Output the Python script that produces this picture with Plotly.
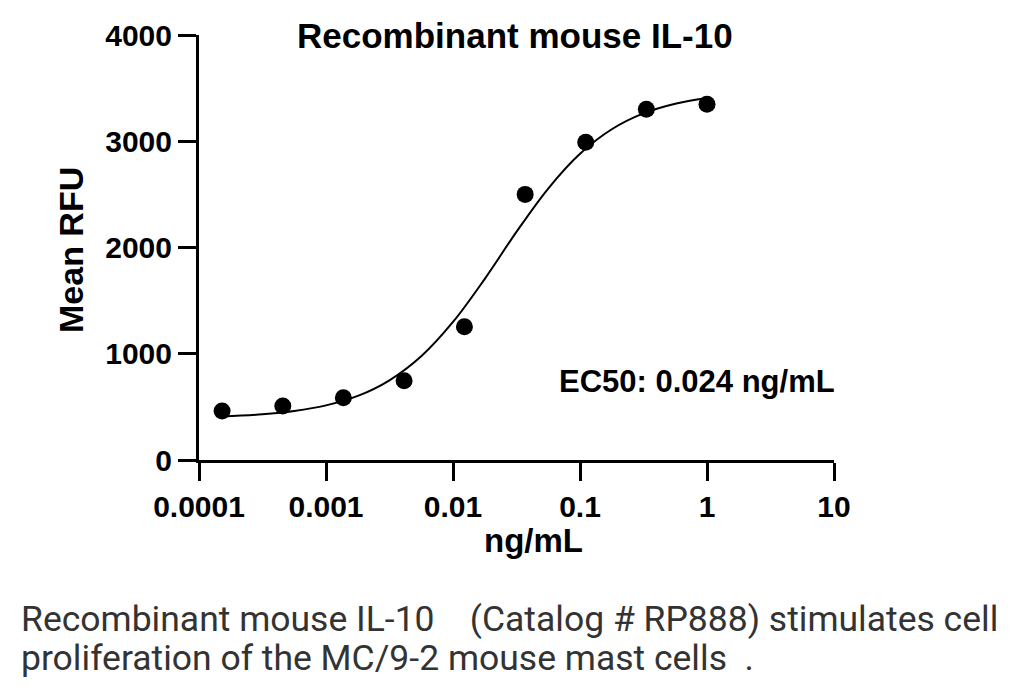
import plotly.graph_objects as go

# Measured points (ng/mL, Mean RFU)
conc = [0.000152, 0.000457, 0.00137, 0.00412, 0.0123, 0.037, 0.111, 0.333, 1.0]
rfu = [462, 509, 585, 745, 1255, 2500, 2991, 3302, 3349]

# Fitted curve
curve_x = [0.000151, 0.000316, 0.000562, 0.001, 0.00178, 0.00316, 0.00562, 0.01,
           0.0178, 0.0316, 0.0562, 0.1, 0.178, 0.316, 0.562, 1.0]
curve_y = [409, 430, 461, 514, 603, 750, 976, 1299,
           1705, 2147, 2555, 2882, 3113, 3262, 3353, 3408]

x_tickvals = [0.0001, 0.001, 0.01, 0.1, 1, 10]
x_ticktext = ["0.0001", "0.001", "0.01", "0.1", "1", "10"]
y_tickvals = [0, 1000, 2000, 3000, 4000]

title_text = "Recombinant mouse IL-10"
x_title = "ng/mL"
y_title = "Mean RFU"
ec50_text = "EC50: 0.024 ng/mL"
caption_lines = ["Recombinant mouse IL-10    (Catalog # RP888) stimulates cell",
                 "proliferation of the MC/9-2 mouse mast cells  ."]

BOLD = "Liberation Sans, Arial, sans-serif"
L, R, T, B = 199, 190, 35, 236
PW, PH = 1024 - L - R, 696 - T - B


def px(xp):
    return (xp - L) / PW


def py(yp):
    return (696 - B - yp) / PH


fig = go.Figure()
fig.add_trace(go.Scatter(x=curve_x, y=curve_y, mode="lines",
                         line=dict(color="black", width=2, shape="spline", smoothing=1.0),
                         hoverinfo="skip", showlegend=False))
fig.add_trace(go.Scatter(x=conc, y=rfu, mode="markers",
                         marker=dict(color="black", size=17),
                         showlegend=False))

fig.update_layout(
    width=1024, height=696,
    margin=dict(l=L, r=R, t=T, b=B),
    paper_bgcolor="white", plot_bgcolor="white",
    font=dict(family=BOLD, color="black"),
    showlegend=False,
)
fig.update_xaxes(type="log", range=[-4, 1], tickvals=x_tickvals, ticktext=x_ticktext,
                 showgrid=False, zeroline=False, showline=True, linecolor="black", linewidth=3,
                 ticks="outside", ticklen=18, tickwidth=3, tickcolor="black",
                 tickfont=dict(size=30, family=BOLD, weight="bold"))
fig.update_yaxes(range=[0, 4000], tickvals=y_tickvals,
                 showgrid=False, zeroline=False, showline=True, linecolor="black", linewidth=3,
                 ticks="outside", ticklen=18, tickwidth=3, tickcolor="black",
                 tickfont=dict(size=30, family=BOLD, weight="bold"))

fig.add_annotation(text="<b>" + title_text + "</b>", xref="paper", yref="paper",
                   x=px(515), y=py(35), xanchor="center", yanchor="middle", showarrow=False,
                   font=dict(size=35, family=BOLD, color="black"))
fig.add_annotation(text="<b>" + x_title + "</b>", xref="paper", yref="paper",
                   x=px(533), y=py(540), xanchor="center", yanchor="middle", showarrow=False,
                   font=dict(size=33, family=BOLD, color="black"))
fig.add_annotation(text="<b>" + y_title + "</b>", xref="paper", yref="paper",
                   x=px(71), y=py(250), xanchor="center", yanchor="middle", showarrow=False,
                   textangle=-90, font=dict(size=34, family=BOLD, color="black"))
fig.add_annotation(text="<b>" + ec50_text + "</b>", xref="paper", yref="paper",
                   x=px(697), y=py(381), xanchor="center", yanchor="middle", showarrow=False,
                   font=dict(size=31, family=BOLD, color="black"))
for i, line in enumerate(caption_lines):
    fig.add_annotation(text=line, xref="paper", yref="paper",
                       x=px(19), y=py(619 + i * 39),
                       xanchor="left", yanchor="middle", showarrow=False,
                       font=dict(size=35.5, family="Roboto, sans-serif", color="#333333"))

fig.write_html("out.html")
